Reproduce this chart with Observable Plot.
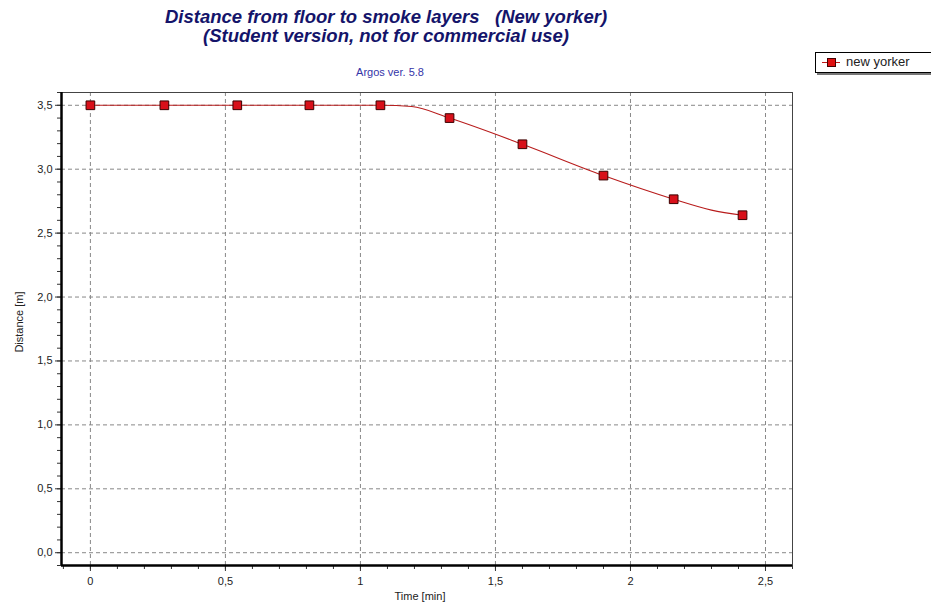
<!DOCTYPE html>
<html><head><meta charset="utf-8">
<script src="https://cdn.jsdelivr.net/npm/d3@7"></script>
<script src="https://cdn.jsdelivr.net/npm/@observablehq/plot@0.6"></script>
<style>
body{margin:0;background:#fff;font-family:"Liberation Sans",Arial,sans-serif;overflow:hidden;}
#wrap{position:relative;width:931px;height:606px;overflow:hidden;}
.t{position:absolute;left:0;width:772px;text-align:center;color:#14146a;font-weight:bold;font-style:italic;font-size:18.5px;line-height:20px;}
#sub{position:absolute;left:0;width:780px;text-align:center;color:#3434a8;font-size:11px;top:66px;}
#leg{position:absolute;left:815px;top:52px;width:125px;height:19px;border:1px solid #000;background:#fff;box-shadow:2px 2px 0 #777;font-size:13px;}
#leg span{position:absolute;left:30px;top:1px;color:#222;}
#leg .ln{position:absolute;left:6px;top:9px;width:18px;height:1px;background:#c01818;}
#leg .mk{position:absolute;left:11px;top:5px;width:7px;height:7px;background:#e01010;border:1px solid #400;}
#xl{position:absolute;left:0;width:840px;text-align:center;top:590px;font-size:11px;color:#222;}
#yl{position:absolute;left:19px;top:322px;transform:translate(-50%,-50%) rotate(-90deg);font-size:11px;color:#222;white-space:nowrap;}
svg{position:absolute;left:0;top:0;}
</style></head><body>
<div id="wrap">
<div class="t" style="top:7px">Distance from floor to smoke layers&nbsp;&nbsp;&nbsp;(New yorker)</div>
<div class="t" style="top:26px">(Student version, not for commercial use)</div>
<div id="sub">Argos ver. 5.8</div>
<div id="leg"><div class="ln"></div><div class="mk"></div><span>new yorker</span></div>
<div id="xl">Time [min]</div>
<div id="yl">Distance [m]</div>
</div>
<script>
const times = [0, 0.274, 0.544, 0.811, 1.074, 1.33, 1.60, 1.90, 2.16, 2.415];
const distances = [3.5, 3.5, 3.5, 3.5, 3.5, 3.40, 3.195, 2.95, 2.765, 2.64];
const lineTimes = [0, 0.274, 0.544, 0.811, 1.074, 1.19, 1.33, 1.60, 1.90, 2.16, 2.30, 2.415];
const lineDistances = [3.5, 3.5, 3.5, 3.5, 3.5, 3.49, 3.40, 3.195, 2.95, 2.765, 2.68, 2.64];
const xTicks = [0, 0.5, 1, 1.5, 2, 2.5];
const xTickLabels = ["0", "0,5", "1", "1,5", "2", "2,5"];
const yTicks = [0, 0.5, 1, 1.5, 2, 2.5, 3, 3.5];
const yTickLabels = ["0,0", "0,5", "1,0", "1,5", "2,0", "2,5", "3,0", "3,5"];
const xMinor = d3.range(-1, 27).map(i => i / 10).filter(v => v >= -0.1 && v <= 2.6);
const yMinor = d3.range(-1, 37).map(i => i / 10).filter(v => v >= -0.1 && v <= 3.6);

const pts = times.map((t, i) => ({t, d: distances[i]}));
const lpts = lineTimes.map((t, i) => ({t, d: lineDistances[i]}));
const xLab = new Map(xTicks.map((v, i) => [v, xTickLabels[i]]));
const yLab = new Map(yTicks.map((v, i) => [v, yTickLabels[i]]));

const chart = Plot.plot({
  width: 931, height: 606,
  marginLeft: 61, marginRight: 139, marginTop: 92, marginBottom: 41,
  style: {fontFamily: "Liberation Sans, Arial, sans-serif", fontSize: "11px", color: "#222", background: "transparent"},
  x: {domain: [-0.107, 2.6], label: null},
  y: {domain: [-0.1, 3.6], label: null},
  marks: [
    Plot.gridX(xTicks, {stroke: "#888", strokeOpacity: 1, strokeDasharray: "4,3"}),
    Plot.gridY(yTicks, {stroke: "#888", strokeOpacity: 1, strokeDasharray: "4,3"}),
    Plot.frame({stroke: "#444", strokeWidth: 1}),
    Plot.axisX(xMinor, {tickSize: 4, text: null, stroke: "#333", tickPadding: 0, label: null}),
    Plot.axisY(yMinor, {tickSize: 4, text: null, stroke: "#333", tickPadding: 0, label: null}),
    Plot.axisX(xTicks, {tickSize: 6, tickFormat: d => xLab.get(d), tickPadding: 6, stroke: "#333", fill: "#222", label: null}),
    Plot.axisY(yTicks, {tickSize: 6, tickFormat: d => yLab.get(d), tickPadding: 3, stroke: "#333", fill: "#222", label: null}),
    Plot.ruleX([-0.107], {stroke: "#000", strokeWidth: 2.5}),
    Plot.ruleY([-0.1], {stroke: "#000", strokeWidth: 2.5}),
    Plot.line(lpts, {x: "t", y: "d", stroke: "#b81c1c", strokeWidth: 1.1, curve: "monotone-x"}),
    Plot.dot(pts, {x: "t", y: "d", symbol: "square", r: 4.9, fill: "#d8101a", stroke: "#3a0000", strokeWidth: 1})
  ]
});
document.getElementById("wrap").prepend(chart);
</script>
</body></html>
